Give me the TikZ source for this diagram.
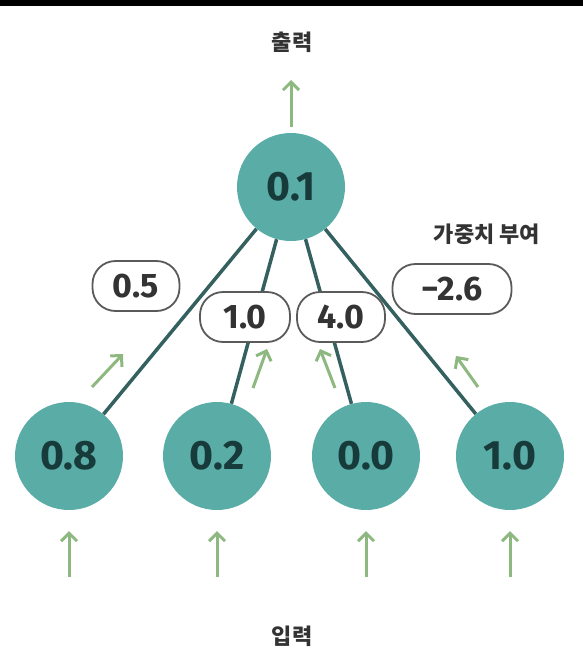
\documentclass[tikz,border=0pt]{standalone}
\usepackage{fontspec}
\setmainfont{Fira Sans}
\newfontfamily\kr{Noto Sans CJK KR}
\usetikzlibrary{arrows.meta}
\definecolor{nodefill}{HTML}{5AACA6}
\definecolor{nodetext}{HTML}{173A3A}
\definecolor{edgecol}{HTML}{34605F}
\definecolor{arrowgreen}{HTML}{8DB87F}
\definecolor{boxline}{HTML}{5A5A5A}
\definecolor{labeltext}{HTML}{333333}
\begin{document}
\begin{tikzpicture}[x=1pt,y=-1pt,
  neuron/.style={circle,fill=nodefill,minimum size=108pt,inner sep=0pt,
    text=nodetext,font=\bfseries\fontsize{41}{41}\selectfont},
  weightbox/.style={draw=boxline,line width=1.8pt,fill=white,rounded corners=23pt,
    minimum height=50pt,inner xsep=10pt,text=labeltext,
    font=\bfseries\fontsize{34}{34}\selectfont},
  edge/.style={draw=edgecol,line width=3.5pt},
  flow/.style={draw=arrowgreen,line width=3pt,-{Straight Barb[length=8pt,width=16pt]}},
  caption/.style={text=labeltext,font=\kr\bfseries\fontsize{22}{22}\selectfont}
]
\useasboundingbox (0,0) rectangle (583,651);
\fill[black] (0,0) rectangle (583,5.5);

% neurons
\node[neuron] (out) at (291,187) {0.1};
\node[neuron] (i1) at (69,456) {0.8};
\node[neuron] (i2) at (217,456) {0.2};
\node[neuron] (i3) at (366,456) {0.0};
\node[neuron] (i4) at (510,456) {1.0};

% edges
\draw[edge] (out) -- (i1);
\draw[edge] (out) -- (i2);
\draw[edge] (out) -- (i3);
\draw[edge] (out) -- (i4);

% weights
\node[weightbox,minimum width=87pt] (w1) at (136,286) {0.5};
\node[weightbox,minimum width=90pt] (w2) at (245,317) {1.0};
\node[weightbox,minimum width=88pt] (w3) at (341,317) {4.0};
\node[weightbox,minimum width=119pt] (w4) at (452,289) {−2.6};

% captions
\node[caption] (outlabel) at (292,42) {출력};
\node[caption] (wlabel) at (487,234) {가중치 부여};
\node[caption] (inlabel) at (292,636) {입력};

% output arrow
\coordinate (oa1) at (291,127);
\coordinate (oa2) at (291,80);
\draw[flow] (oa1) -- (oa2);

% diagonal arrows
\coordinate (d1s) at (92,387); \coordinate (d1e) at (123,354);
\coordinate (d2s) at (253,388); \coordinate (d2e) at (267,349);
\coordinate (d3s) at (335,388); \coordinate (d3e) at (320,349);
\coordinate (d4s) at (478,387); \coordinate (d4e) at (456,356);
\draw[flow] (d1s) -- (d1e);
\draw[flow] (d2s) -- (d2e);
\draw[flow] (d3s) -- (d3e);
\draw[flow] (d4s) -- (d4e);

% input arrows
\foreach \n/\x in {1/69,2/217,3/366,4/510}{
  \coordinate (ia\n s) at (\x,577);
  \coordinate (ia\n e) at (\x,531);
  \draw[flow] (ia\n s) -- (ia\n e);
}
\end{tikzpicture}
\end{document}
